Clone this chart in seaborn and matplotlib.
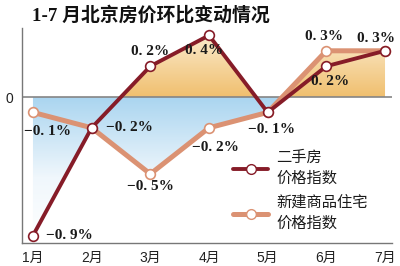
import numpy as np
import matplotlib
matplotlib.use('Agg')
import matplotlib.pyplot as plt
import seaborn as sns
from matplotlib.colors import LinearSegmentedColormap
from matplotlib.path import Path
from matplotlib.lines import Line2D

# ---- data ----
months = ['1月', '2月', '3月', '4月', '5月', '6月', '7月']
second_hand = [-0.9, -0.2, 0.2, 0.4, -0.1, 0.2, 0.3]
new_home = [-0.1, -0.2, -0.5, -0.2, -0.1, 0.3, 0.3]
show_second = [True, True, True, True, True, True, True]
show_new = [True, False, True, True, False, True, False]
title = '1-7 月北京房价环比变动情况'
legend_labels = ['二手房\n价格指数', '新建商品住宅\n价格指数']

# label offsets (pixels)
off_second = [(36, 0), (38, 0), (0, 15), (-5, -15), (4, -17), (4, -15), (-9, 12)]
off_new = [(15, -19), (0, 0), (0, -13), (6, -20), (0, 0), (-2, 14), (0, 0)]

C_SH = '#861C28'
C_NH = '#DB9273'

sns.set_style('white')
plt.rcParams['font.family'] = ['Noto Sans CJK SC', 'DejaVu Sans']

fig = plt.figure(figsize=(4, 2.66), dpi=100)
ax = fig.add_axes([0.055, 0.0865, 0.925, 0.8082])
x = np.arange(len(months))
xlim = (-0.187, 6.119)
ylim = (-0.948, 0.448)

sh = np.array(second_hand)
nh = np.array(new_home)
upper = np.maximum(sh, nh)
lower = np.minimum(sh, nh)


def grad_fill(y1, where, extent, stops):
    coll = ax.fill_between(x, 0, y1, where=where, interpolate=True,
                           facecolor='none', edgecolor='none')
    path = Path.make_compound_path(*coll.get_paths())
    cmap = LinearSegmentedColormap.from_list('g', stops)
    grad = np.linspace(0, 1, 256).reshape(-1, 1)
    im = ax.imshow(grad, extent=extent, origin='lower', aspect='auto',
                   cmap=cmap, zorder=1, interpolation='bilinear')
    im.set_clip_path(path, transform=ax.transData)


grad_fill(upper, upper > 0, [xlim[0], xlim[1], 0, ylim[1]],
          [(0, '#F0BF6E'), (1, '#FCEFD6')])
grad_fill(lower, lower < 0, [xlim[0], xlim[1], ylim[0], 0],
          [(0, '#FFFFFF'), (0.45, '#F0F7FC'), (1, '#AAD5F0')])

ax.axhline(0, color='#858585', lw=1.2, zorder=2)

sns.lineplot(x=x, y=nh, ax=ax, color=C_NH, lw=3.6, marker='o', markersize=7,
             markerfacecolor='white', markeredgecolor=C_NH, markeredgewidth=1.2,
             zorder=3)
sns.lineplot(x=x, y=sh, ax=ax, color=C_SH, lw=2.8, marker='o', markersize=7,
             markerfacecolor='white', markeredgecolor=C_SH, markeredgewidth=1.2,
             zorder=4)


def fmt(v):
    s = f'{abs(v):.1f}'.replace('.', '. ')
    return ('−' if v < 0 else '') + s + '%'


for vals, shows, offs in ((sh, show_second, off_second), (nh, show_new, off_new)):
    for xi, v, show, off in zip(x, vals, shows, offs):
        if show:
            ax.annotate(fmt(v), (xi, v), xytext=off, textcoords='offset pixels',
                        ha='center', va='center', fontsize=11, weight='bold',
                        family=['Liberation Serif', 'DejaVu Serif'],
                        color='#1a1a1a', zorder=5)

handles = [Line2D([], [], color=C_SH, lw=2.8, marker='o', ms=7, mfc='white', mec=C_SH),
           Line2D([], [], color=C_NH, lw=3.6, marker='o', ms=7, mfc='white', mec=C_NH)]
leg = ax.legend(handles, legend_labels, loc='upper left',
                bbox_to_anchor=(233 / 400, 1 - 149 / 266), bbox_transform=fig.transFigure,
                frameon=False, fontsize=11, handlelength=2.3, handletextpad=0.55,
                labelspacing=0.45, borderpad=0, borderaxespad=0)
for t in leg.get_texts():
    t.set_linespacing(1.3)
    t.set_color('#1a1a1a')

ax.set_xlim(*xlim)
ax.set_ylim(*ylim)
ax.set_xticks(x, months)
ax.set_yticks([0], ['0'])
ax.tick_params(length=0, pad=6, labelsize=10, colors='#222222')
for lbl in ax.get_xticklabels() + ax.get_yticklabels():
    lbl.set_family(['Liberation Sans', 'Noto Sans CJK SC'])
ax.set_xlabel('')
ax.set_ylabel('')
for s in ('top', 'right'):
    ax.spines[s].set_visible(False)
for s in ('left', 'bottom'):
    ax.spines[s].set_color('#777777')
    ax.spines[s].set_linewidth(1.0)
ax.grid(False)

fig.text(32 / 400, 1 - 15 / 266, title, ha='left', va='center', fontsize=13.6,
         weight='bold', family=['Liberation Serif', 'Noto Sans CJK SC'], color='#111111')

fig.savefig('out.png', dpi=100, facecolor='white')
